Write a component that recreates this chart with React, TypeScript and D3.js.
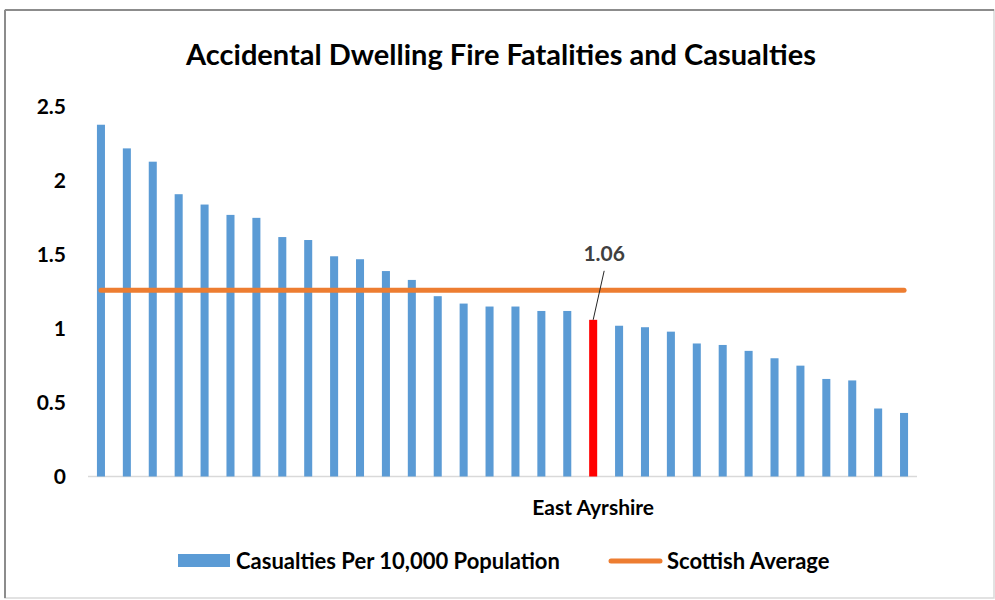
import * as d3 from 'd3';

// casualties per 10,000 population, one per council area, sorted high to low
const values = [
  2.38, 2.22, 2.13, 1.91, 1.84, 1.77, 1.75, 1.62, 1.60, 1.49, 1.47, 1.39,
  1.33, 1.22, 1.17, 1.15, 1.15, 1.12, 1.12, 1.06, 1.02, 1.01, 0.98, 0.90,
  0.89, 0.85, 0.80, 0.75, 0.66, 0.65, 0.46, 0.43,
];
// only the highlighted area is named on the axis
const labels = values.map((_, i) => (i === 19 ? 'East Ayrshire' : ''));
const highlight = 19;
const scottishAverage = 1.26;
const yTicks = [0, 0.5, 1, 1.5, 2, 2.5];

const title = 'Accidental Dwelling Fire Fatalities and Casualties';
const seriesName = 'Casualties Per 10,000 Population';
const avgName = 'Scottish Average';

const W = 995;
const H = 600;
const font = 'Lato, "Open Sans", sans-serif';

export default function App() {
  const x = d3
    .scaleBand<number>()
    .domain(values.map((_, i) => i))
    .range([88, 917])
    .paddingInner(0.69)
    .paddingOuter(0.345);
  const y = d3.scaleLinear().domain([0, 2.5]).range([476.5, 107]);
  const bw = x.bandwidth();
  const cx = (i: number) => (x(i) ?? 0) + bw / 2;

  const avgLine = d3.line<number>()
    .x(i => cx(i))
    .y(() => y(scottishAverage));

  const hx = cx(highlight);
  const hy = y(values[highlight]);

  return (
    <svg width={W} height={H} style={{ position: 'absolute', left: 0, top: 0, background: '#fff' }} fontFamily={font}>
      {/* frame */}
      <rect x={5} y={10} width={989} height={588} fill="#fff" stroke="#d9d9d9" strokeWidth={1.5} />
      <line x1={5} y1={10} x2={994} y2={10} stroke="#8c8c8c" strokeWidth={2} />
      <line x1={5} y1={10} x2={5} y2={598} stroke="#8c8c8c" strokeWidth={2} />

      <text x={501} y={65} textAnchor="middle" fontSize={29} fontWeight={700} fill="#000">
        {title}
      </text>

      {yTicks.map(t => (
        <text key={t} x={66} y={y(t)} dy="0.35em" textAnchor="end" fontSize={21} fontWeight={700} fill="#000">
          {t}
        </text>
      ))}

      <line x1={88} x2={917} y1={y(0)} y2={y(0)} stroke="#d9d9d9" strokeWidth={1.5} />

      {values.map((v, i) => (
        <rect
          key={i}
          x={x(i)}
          y={y(v)}
          width={bw}
          height={y(0) - y(v)}
          fill={i === highlight ? '#ff0000' : '#5b9bd5'}
        />
      ))}

      {labels.map((l, i) =>
        l ? (
          <text key={i} x={cx(i)} y={515} textAnchor="middle" fontSize={21} fontWeight={700} fill="#000">
            {l}
          </text>
        ) : null
      )}

      <path
        d={avgLine([0, values.length - 1]) ?? ''}
        fill="none"
        stroke="#ed7d31"
        strokeWidth={5}
        strokeLinecap="round"
      />

      {/* data label with leader line */}
      <line x1={hx} y1={hy} x2={hx + 11} y2={hy - 49} stroke="#262626" strokeWidth={1} />
      <text x={hx + 11} y={hy - 59} textAnchor="middle" fontSize={21} fontWeight={700} fill="#404040">
        {values[highlight].toFixed(2)}
      </text>

      {/* legend */}
      <rect x={178} y={554} width={52} height={13} fill="#5b9bd5" />
      <text x={236} y={569} fontSize={22} fontWeight={700} fill="#000">{seriesName}</text>
      <line x1={611} x2={660} y1={561} y2={561} stroke="#ed7d31" strokeWidth={5} strokeLinecap="round" />
      <text x={667} y={569} fontSize={22} fontWeight={700} fill="#000">{avgName}</text>
    </svg>
  );
}
